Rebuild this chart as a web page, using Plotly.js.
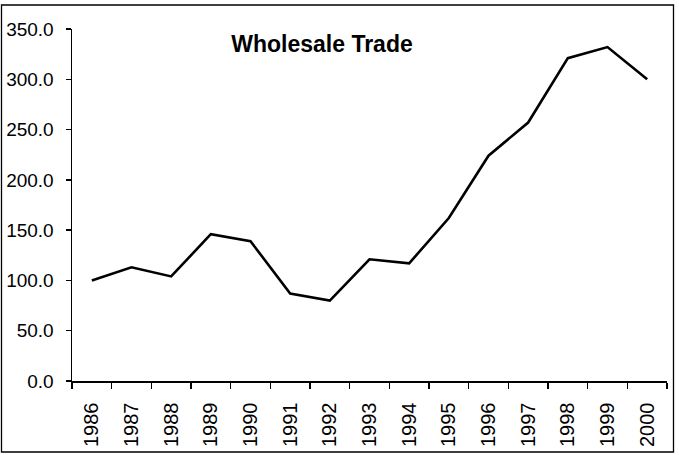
<!DOCTYPE html>
<html>
<head>
<meta charset="utf-8">
<script src="https://cdn.plot.ly/plotly-3.0.1.min.js"></script>
<style>
  html, body { margin: 0; padding: 0; background: #fff; }
  #chart { width: 679px; height: 455px; }
</style>
</head>
<body>
<div id="chart"></div>
<script>
const years = ["1986","1987","1988","1989","1990","1991","1992","1993","1994","1995","1996","1997","1998","1999","2000"];
const values = [100, 113, 104, 146, 139, 87, 80, 121, 117, 162, 224, 257, 321, 332, 300];
const chartTitle = "Wholesale Trade";

const L = 72, R = 667, T = 29, B = 381, W = 679, H = 455;
const pw = R - L, ph = B - T;
const px = x => (x - L) / pw;
const py = y => (B - y) / ph;

const trace = {
  x: years,
  y: values,
  type: "scatter",
  mode: "lines",
  line: { color: "#000", width: 2.6 },
  hoverinfo: "x+y"
};

const layout = {
  width: W, height: H,
  margin: { l: L, r: W - R, t: T, b: H - B, pad: 0 },
  paper_bgcolor: "#fff",
  plot_bgcolor: "#fff",
  showlegend: false,
  font: { family: "Liberation Sans, Arial, sans-serif", color: "#000" },
  title: {
    text: "<b>" + chartTitle + "</b>",
    font: { size: 23, family: "Liberation Sans, Arial, sans-serif", color: "#000" },
    xref: "paper", x: px(322), xanchor: "center",
    yref: "container", y: 1 - 43.5 / H, yanchor: "middle"
  },
  xaxis: {
    type: "category",
    range: [-0.5, years.length - 0.5],
    showline: true, linecolor: "#000", linewidth: 1.5,
    showgrid: false, zeroline: false,
    ticks: "outside", tickson: "boundaries", ticklen: 6, tickwidth: 1.5, tickcolor: "#000",
    tickangle: -90,
    tickfont: { size: 20, color: "#000" },
    ticklabelstandoff: 12
  },
  yaxis: {
    range: [0, 350],
    dtick: 50, tick0: 0,
    tickformat: ".1f",
    showline: true, linecolor: "#000", linewidth: 1.5,
    showgrid: false, zeroline: false,
    ticks: "outside", ticklen: 5, tickwidth: 1.5, tickcolor: "#000",
    tickfont: { size: 19, color: "#000" },
    ticklabelstandoff: 8
  },
  shapes: [{
    type: "rect", xref: "paper", yref: "paper",
    x0: px(1.5), x1: px(673.5), y0: py(452), y1: py(5),
    line: { color: "#000", width: 1.3 }, fillcolor: "rgba(0,0,0,0)", layer: "above"
  }]
};

Plotly.newPlot("chart", [trace], layout, { displayModeBar: false, staticPlot: true });
</script>
</body>
</html>
